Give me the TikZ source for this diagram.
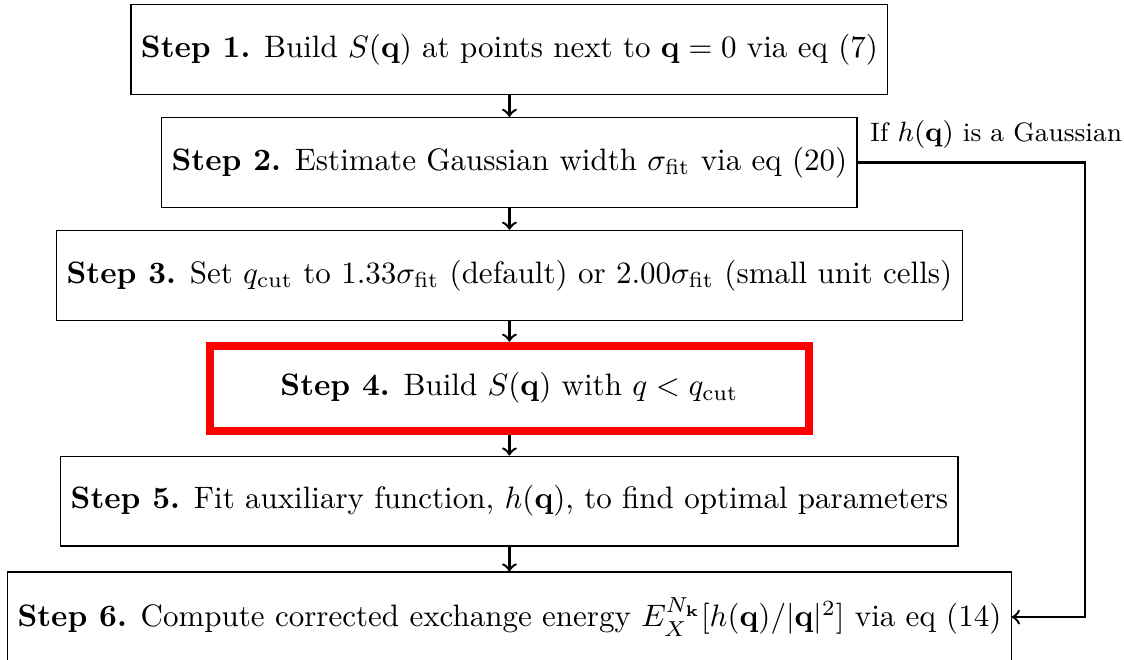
\documentclass[tikz,border=0pt]{standalone}
\usepackage{amsmath}
\usetikzlibrary{positioning}

\begin{document}
\begin{tikzpicture}[->,>=to,auto,node distance=36.4pt,thick,
    main node/.style={rectangle,draw,thin,minimum height=29pt,inner xsep=3.2pt,font=\normalsize},
    red node/.style={rectangle,draw=red,line width=2.6pt,minimum width=193pt,minimum height=27.4pt,font=\normalsize}]

            \useasboundingbox (-164.3pt,16pt) rectangle (198.2pt,-196.6pt);

            \node[main node] (1) []{\textbf{Step 1.} Build $S(\mathbf{q})$ at points next to $\mathbf{q}=0$ via eq (7)};
            \node[main node] (2) [below of = 1]{\textbf{Step 2.} Estimate Gaussian width $\sigma_{\text{fit}}$ via eq (20)};
            \node[main node] (3) [below of = 2]{\textbf{Step 3.} Set $q_{\text{cut}}$ to $1.33\sigma_{\text{fit}}$ (default) or $2.00\sigma_{\text{fit}}$ (small unit cells)};
            \node[red node] (4) [below of = 3]{\textbf{Step 4.} Build $S(\mathbf{q})$ with $q<q_{\text{cut}}$};
            \node[main node] (5) [below of = 4]{\textbf{Step 5.} Fit auxiliary function, $h(\mathbf{q})$, to find optimal parameters};
            \node[main node] (6) [below of = 5, yshift=-1pt]{\textbf{Step 6.} Compute corrected exchange energy $E_X^{N_{\mathbf{k}}}[h(\mathbf{q})/|\mathbf{q}|^2]$ via eq (14)};

            \coordinate (turn) at (185.6pt,0);
            \node[anchor=south west, font=\fontsize{8.6}{10}\selectfont, inner sep=1pt] (gauss) at ([xshift=2.6pt,yshift=3pt]2.east) {If $h(\mathbf{q})$ is a Gaussian};

            \path
                (1) edge (2)
                (2) edge (3)
                (3) edge (4)
                (4) edge (5)
                (5) edge (6)
            ;
            \draw (2.east) -- (2.east -| turn) |- (6.east);
        \end{tikzpicture}
\end{document}
